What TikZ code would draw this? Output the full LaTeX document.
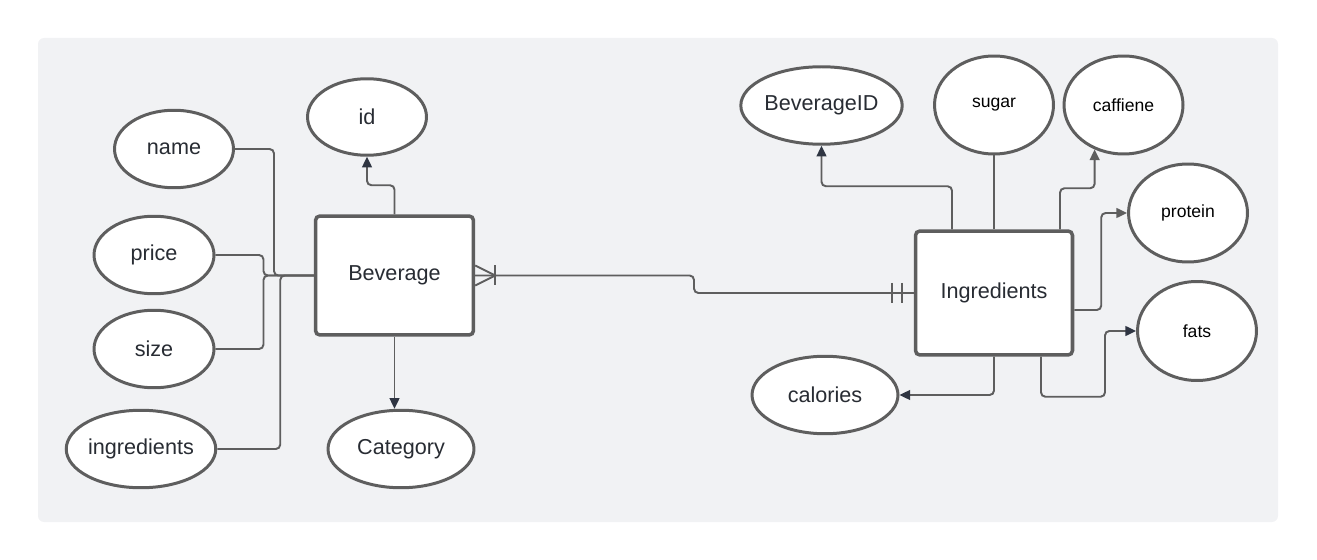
\documentclass[tikz,border=0pt]{standalone}
\usepackage{fontspec}
\setmainfont{Liberation Sans}
\usetikzlibrary{shapes.geometric,arrows.meta}
\definecolor{canvas}{HTML}{F1F2F4}
\definecolor{edge}{HTML}{5E5E5E}
\definecolor{tipdark}{HTML}{2F3542}
\definecolor{ink}{HTML}{282C33}

\begin{document}
\begin{tikzpicture}[x=0.02cm, y=-0.02cm,
    entity/.style={draw=edge, line width=2pt, fill=white, rounded corners=2.5pt, minimum width=3.16cm, minimum height=2.38cm, font=\fontsize{12.3}{14}\selectfont, text=ink},
    attr/.style={draw=edge, ellipse, line width=1.7pt, fill=white, inner sep=0pt, minimum width=2.38cm, minimum height=1.55cm, font=\fontsize{12.3}{14}\selectfont, text=ink},
    minor/.style={font=\fontsize{10}{12}\selectfont, text=black},
    link/.style={draw=edge, line width=1.1pt, rounded corners=2.5pt},
    toattr/.style={link, -{Triangle[length=6pt, width=5.5pt, color=tipdark]}},
    toattrgray/.style={link, -{Triangle[length=6pt, width=5.5pt, color=edge]}}]

    % Canvas
    \useasboundingbox (0,0) rectangle (1317,560);
    \fill [canvas, rounded corners=3.5pt] (38,38) rectangle (1278,522);

    % Beverage entity
    \node [entity] (bev) at (394.5,275.5) {Beverage};

    % Beverage attributes
    \node [attr] (name) at (174,149) {name};
    \node [attr, minimum width=2.4cm] (price) at (154,255) {price};
    \node [attr, minimum width=2.4cm] (size) at (154,349) {size};
    \node [attr, minimum width=2.92cm] (ingr) at (141,449) {ingredients};
    \node [attr, minimum height=1.53cm] (id) at (367,117) {id};
    \node [attr, minimum width=2.92cm] (cat) at (401,449) {Category};

    % Ingredients entity
    \node [entity, minimum width=3.14cm, minimum height=2.48cm] (ing) at (994,293) {Ingredients};

    % Ingredients attributes
    \node [attr, minimum width=3.04cm] (bevid) at (821.5,105.5) {BeverageID};
    \node [attr, minor, minimum height=1.96cm] (sugar) at (994,105) {sugar};
    \node [attr, minor, minimum height=1.96cm] (caff) at (1123.5,105) {caffiene};
    \node [attr, minor, minimum height=1.96cm] (prot) at (1188,213) {protein};
    \node [attr, minor, minimum height=1.98cm] (fats) at (1197,331) {fats};
    \node [attr, minimum width=2.92cm] (cal) at (825,395) {calories};

    % Links on the left
    \draw [link] (name.east) -- ++(39,0) |- (bev.west);
    \draw [link] (price.east) -- ++(48,0) |- (bev.west);
    \draw [link] (size.east) -- ++(48,0) |- (bev.west);
    \draw [link] (ingr.east) -- ++(63,0) |- (bev.west);
    \draw [toattr] (bev.north) -- ++(0,-29) -| (id.south);
    \draw [toattr] (bev.south) -- (bev.south |- cat.north);

    % Relationship
    \draw [link] (bev.east) -| (694,293) -- (ing.west);
    \draw [link, rounded corners=0pt] (bev.east) ++(0,-10) -- ++(20,10) -- ++(-20,10); % crow's foot
    \draw [link] (bev.east) ++(20,-10) -- ++(0,20);
    \draw [link] (ing.west) ++(-22,-10) -- ++(0,20); % one and only one
    \draw [link] (ing.west) ++(-12,-10) -- ++(0,20);

    % Links on the right
    \draw [toattr] (ing.north) ++(-42,0) -- ++(0,-43) -| (bevid.south);
    \draw [link] (ing.north) -- (sugar.south);
    \draw [toattrgray] (ing.north) ++(66,0) -- ++(0,-41) -| (caff.237);
    \draw [toattrgray] (ing.east) ++(0,17) -- ++(27,0) |- (prot.west);
    \draw [toattr] (ing.south) ++(47,0) -- ++(0,40) -- ++(64,0) |- (fats.west);
    \draw [toattr] (ing.south) |- (cal.east);
\end{tikzpicture}
\end{document}
